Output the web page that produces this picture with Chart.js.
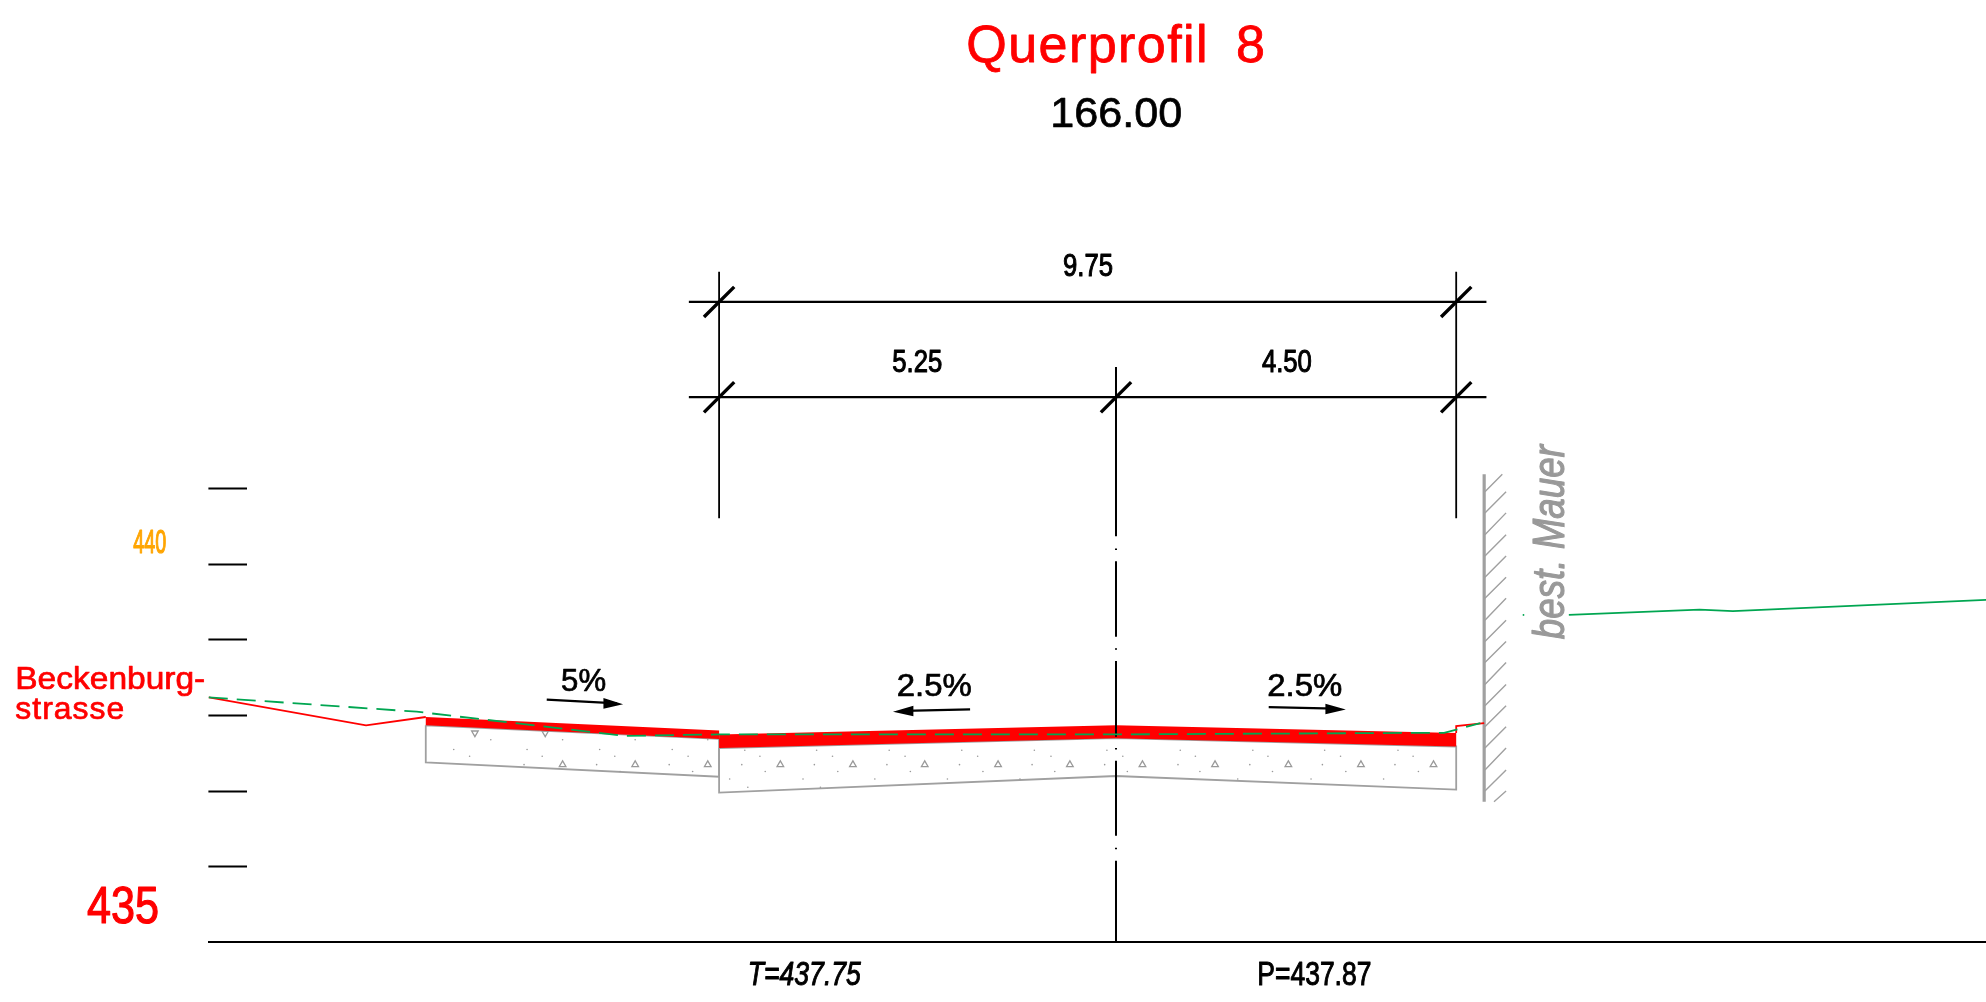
<!DOCTYPE html>
<html lang="de">
<head>
<meta charset="utf-8">
<title>Querprofil 8</title>
<style>html,body{margin:0;padding:0;background:#fff}canvas{display:block}</style>
<script src="https://cdn.jsdelivr.net/npm/chart.js@4"></script>
</head>
<body>
<canvas id="c" width="1986" height="1002"></canvas>
<script>
// Offsets in metres from the axis, elevations in metres above datum.
const yTickValues = [436, 437, 438, 439, 440, 441];

const roadLeftRedX = [-9.13, -5.25, -5.25, -9.13];
const roadLeftRedY = [437.98, 437.80, 437.69, 437.87];
const roadMainRedX = [-5.25, 0, 4.5, 4.5, 0, -5.25];
const roadMainRedY = [437.75, 437.87, 437.77, 437.59, 437.70, 437.57];

const baseLeftX = [-9.13, -5.25, -5.25, -9.13, -9.13];
const baseLeftY = [437.87, 437.69, 437.19, 437.38, 437.87];
const baseMainX = [-5.25, 0, 4.5, 4.5, 0, -5.25, -5.25];
const baseMainY = [437.57, 437.70, 437.59, 437.02, 437.20, 436.98, 437.57];

const terrainRedX = [-12, -9.92, -9.13, null, 4.5, 4.5, 4.87];
const terrainRedY = [438.24, 437.87, 437.98, null, 437.77, 437.86, 437.90];

const existingDashedX = [-12, -9.25, -6.5, -5.25, 0, 4.0, 4.34, 4.82];
const existingDashedY = [438.24, 438.05, 437.73, 437.75, 437.75, 437.77, 437.77, 437.90];
const existingRightX = [5.99, 7.72, 8.16, 11.51];
const existingRightY = [439.33, 439.40, 439.38, 439.53];
const existingSpeckX = [5.38, 5.40];
const existingSpeckY = [439.33, 439.33];

const wallX = [4.87, 4.87];
const wallY = [441.19, 436.86];
const hatchX = [4.88,5.11,null,4.88,5.16,null,4.88,5.16,null,4.88,5.16,null,4.88,5.16,null,4.88,5.16,null,4.88,5.16,null,4.88,5.16,null,4.88,5.16,null,4.88,5.16,null,4.88,5.16,null,4.88,5.16,null,4.88,5.16,null,4.88,5.16,null,4.88,5.16,null,5.00,5.16];
const hatchY = [440.96,441.19,null,440.68,440.96,null,440.39,440.68,null,440.11,440.39,null,439.83,440.11,null,439.55,439.83,null,439.26,439.55,null,438.98,439.26,null,438.70,438.98,null,438.41,438.70,null,438.13,438.41,null,437.85,438.13,null,437.57,437.85,null,437.28,437.57,null,437.00,437.28,null,436.86,437.00];

const centreLineX = [0,0,null,0,0,null,0,0,null,0,0,null,0,0,null,0,0,null,0,0,null,0,0,null,0,0];
const centreLineY = [442.61,440.37,null,440.21,440.19,null,440.04,439.04,null,438.89,438.87,null,438.72,437.72,null,437.57,437.55,null,437.40,436.41,null,436.25,436.23,null,436.08,435];

const dimExtX = [-5.25,-5.25,null,4.5,4.5];
const dimExtY = [443.87,440.61,null,443.87,440.61];
const dimLineX = [-5.65,4.9,null,-5.65,4.9,null,-0.39,0.39];
const dimLineY = [443.47,443.47,null,442.21,442.21,null,442.21,442.21];
const dimSlashX = [-5.45,-5.05,null,4.3,4.7,null,-5.45,-5.05,null,-0.2,0.2,null,4.3,4.7];
const dimSlashY = [443.27,443.67,null,443.27,443.67,null,442.01,442.41,null,442.01,442.41,null,442.01,442.41];

const arrowShaftX = [-7.53,-6.6,null,-1.93,-2.8,null,2.02,2.9];
const arrowShaftY = [438.21,438.16,null,438.08,438.06,null,438.11,438.09];
const arrowHead1X = [-6.52,-6.78,-6.78];
const arrowHead1Y = [438.15,438.23,438.09];
const arrowHead2X = [-2.95,-2.68,-2.68];
const arrowHead2Y = [438.05,438.13,437.99];
const arrowHead3X = [3.04,2.77,2.77];
const arrowHead3Y = [438.08,438.155,438.015];

const gravelTriangleX = [-7.32,-6.36,-5.40,-4.44,-3.48,-2.53,-1.56,-0.61,0.35,1.31,2.28,3.24,4.20];
const gravelTriangleLevel = 437.35;
const gravelTiltedX = [-8.48,-7.55];
const gravelTiltedY = [437.77,437.77];
const gravelLevels = [437.68,437.55,437.54,437.46,437.35,437.26,437.16,437.05];
const gravelDotX = [
  [-8.27,-7.32,-6.36,-5.40],
  [-8.76,-7.79,-6.83,-5.87],
  [-4.91,-3.96,-3.00,-2.04,-1.08,-0.12,0.85,1.81,2.76,3.73],
  [-8.55,-7.59,-6.63,-5.66,-4.71,-3.75,-2.79,-1.83,-0.86,0.09,1.05,2.01,2.97,3.93],
  [-7.83,-6.87,-5.91,-4.95,-3.99,-3.03,-2.07,-1.11,-0.15,0.82,1.77,2.73,3.69],
  [-6.56,-5.60,-4.64,-3.68,-2.72,-1.76,-0.81,0.15,1.11,2.07,3.04,4.00],
  [-5.11,-4.14,-3.19,-2.23,-1.27,1.61,2.58,3.54],
  [-4.87,-3.91]
];

const labelTexts = ['Querprofil 8','166.00','Beckenburg-','strasse','440','435','9.75','5.25','4.50','T=437.75','P=437.87','5%','2.5%','2.5%','best. Mauer'];
const labelX = [-1.98,-0.87,-14.56,-14.56,-13.0,-13.61,-0.70,-2.96,1.93,-4.87,1.87,-7.34,-2.90,2.00,5.92];
const labelY = [446.64,445.79,438.35,437.95,440.15,435.25,443.81,442.55,442.55,434.44,434.44,438.33,438.26,438.26,439.01];

const labelStyle = [
  {size:52,w:300,color:'#ff0000',spacing:1.4,word:11,stroke:0.8},
  {size:43,w:132,color:'#000000',stroke:0.7},
  {size:30.5,w:190,color:'#ff0000',stroke:0.7},
  {size:30.5,w:110,color:'#ff0000',spacing:1,stroke:0.7},
  {size:33,w:33,color:'#ffa500',stroke:1.2},
  {size:52,w:72,color:'#ff0000',stroke:1.2},
  {size:32,w:50,color:'#000000',stroke:1.1},
  {size:32,w:50,color:'#000000',stroke:1.1},
  {size:32,w:50,color:'#000000',stroke:1.1},
  {size:33,w:113,color:'#000000',italic:true,stroke:1},
  {size:33,w:114,color:'#000000',stroke:1},
  {size:31,w:45,color:'#000000',stroke:0.7},
  {size:31,w:75,color:'#000000',stroke:0.7},
  {size:31,w:75,color:'#000000',stroke:0.7},
  {size:44,w:194,color:'#999999',italic:true,rotate:-90,stroke:1.2}
];

const pts = (xs, ys) => xs.map((x, i) => ({x, y: ys[i]}));
const line = (xs, ys, color, width, extra) => Object.assign(
  {data: pts(xs, ys), showLine: true, borderColor: color, borderWidth: width, pointRadius: 0, spanGaps: false, clip: false, fill: false, tension: 0}, extra || {});
const shape = (xs, ys, color) => line(xs, ys, color, 0, {fill: 'shape', backgroundColor: color});

const GREY = '#a0a0a0', GREEN = '#00a651', RED = '#ff0000', BLACK = '#000000';

const gravelDots = [];
gravelLevels.forEach((lv, i) => gravelDotX[i].forEach(x => gravelDots.push({x, y: lv})));

const layers = [
  line(hatchX, hatchY, GREY, 1.4),
  line(wallX, wallY, GREY, 3.2),
  line(baseLeftX, baseLeftY, GREY, 1.8),
  line(baseMainX, baseMainY, GREY, 1.8),
  {data: gravelDots, showLine: false, pointRadius: 0.8, pointBackgroundColor: '#999999', pointBorderWidth: 0, clip: false},
  {data: gravelTriangleX.map(x => ({x, y: gravelTriangleLevel})), showLine: false, pointStyle: 'triangle', pointRadius: 3.8, pointBackgroundColor: 'rgba(0,0,0,0)', pointBorderColor: '#999999', pointBorderWidth: 1.3, clip: false},
  {data: pts(gravelTiltedX, gravelTiltedY), showLine: false, pointStyle: 'triangle', pointRotation: 180, pointRadius: 3.8, pointBackgroundColor: 'rgba(0,0,0,0)', pointBorderColor: '#999999', pointBorderWidth: 1.3, clip: false},
  shape(roadLeftRedX, roadLeftRedY, RED),
  shape(roadMainRedX, roadMainRedY, RED),
  line(terrainRedX, terrainRedY, RED, 1.8),
  line(centreLineX, centreLineY, BLACK, 2),
  line(existingDashedX, existingDashedY, GREEN, 1.8, {borderDash: [19, 9]}),
  line(existingRightX, existingRightY, GREEN, 1.8),
  line(existingSpeckX, existingSpeckY, GREEN, 1.8),
  line(dimExtX, dimExtY, BLACK, 1.8),
  line(dimLineX, dimLineY, BLACK, 2.2),
  line(dimSlashX, dimSlashY, BLACK, 3.4),
  line(arrowShaftX, arrowShaftY, BLACK, 2.2),
  shape(arrowHead1X, arrowHead1Y, BLACK),
  shape(arrowHead2X, arrowHead2Y, BLACK),
  shape(arrowHead3X, arrowHead3Y, BLACK)
];
layers.forEach((d, i) => { d.order = layers.length - i; });

const textPlugin = {
  id: 'drawingText',
  afterDatasetsDraw(chart) {
    const c = chart.ctx, sx = chart.scales.x, sy = chart.scales.y;
    labelTexts.forEach((t, i) => {
      const s = labelStyle[i];
      c.save();
      c.font = (s.italic ? 'italic ' : '') + s.size + 'px "Liberation Sans", Arial, sans-serif';
      c.letterSpacing = (s.spacing || 0) + 'px';
      c.wordSpacing = (s.word || 0) + 'px';
      c.textAlign = 'left';
      c.textBaseline = 'alphabetic';
      c.fillStyle = s.color;
      const natural = c.measureText(t).width;
      c.translate(sx.getPixelForValue(labelX[i]), sy.getPixelForValue(labelY[i]));
      if (s.rotate) c.rotate(s.rotate * Math.PI / 180);
      c.scale(s.w / natural, 1);
      c.fillText(t, 0, 0);
      if (s.stroke) { c.strokeStyle = s.color; c.lineWidth = s.stroke; c.lineJoin = 'round'; c.strokeText(t, 0, 0); }
      c.restore();
    });
  }
};

new Chart(document.getElementById('c'), {
  type: 'scatter',
  data: {datasets: layers},
  options: {
    responsive: false,
    animation: false,
    events: [],
    layout: {autoPadding: false, padding: {left: 208.8, right: 0, top: 0, bottom: 59.7}},
    plugins: {legend: {display: false}, tooltip: {enabled: false}},
    scales: {
      x: {
        type: 'linear', min: -12, max: 11.508,
        position: {y: 435},
        border: {display: true, color: BLACK, width: 2},
        grid: {display: false, drawTicks: false, drawOnChartArea: false},
        ticks: {display: false}
      },
      y: {
        type: 'linear', min: 435, max: 447.464,
        position: {x: -11.49},
        afterBuildTicks(axis) { axis.ticks = yTickValues.map(value => ({value})); },
        border: {display: false},
        grid: {display: true, drawOnChartArea: false, drawTicks: true, tickLength: 38.6, tickColor: BLACK, tickWidth: 2},
        ticks: {display: false}
      }
    }
  },
  plugins: [textPlugin]
});
</script>
</body>
</html>
